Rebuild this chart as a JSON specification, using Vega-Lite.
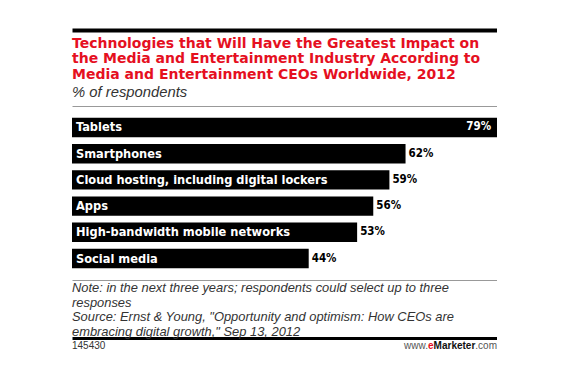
{
  "$schema": "https://vega.github.io/schema/vega-lite/v6.json",
  "padding": {"left": 72, "top": 24, "right": 0, "bottom": 0},
  "background": "white",
  "spacing": 0,
  "config": {"view": {"stroke": null}, "font": "Liberation Sans", "concat": {"spacing": 0}},
  "datasets": {
    "bars": [
      {"tech": "Tablets", "value": 79, "label": "79%"},
      {"tech": "Smartphones", "value": 62, "label": "62%"},
      {"tech": "Cloud hosting, including digital lockers", "value": 59, "label": "59%"},
      {"tech": "Apps", "value": 56, "label": "56%"},
      {"tech": "High-bandwidth mobile networks", "value": 53, "label": "53%"},
      {"tech": "Social media", "value": 44, "label": "44%"}
    ],
    "notes": [
      {"text": "Note: in the next three years; respondents could select up to three"},
      {"text": "responses"},
      {"text": "Source: Ernst & Young, \"Opportunity and optimism: How CEOs are"},
      {"text": "embracing digital growth,\" Sep 13, 2012"}
    ],
    "footer": [
      {"text": "145430", "part": "id"},
      {"text": "www.", "part": "www"},
      {"text": "e", "part": "e"},
      {"text": "Marketer", "part": "brand"},
      {"text": ".com", "part": "com"}
    ]
  },
  "vconcat": [
    {
      "width": 425,
      "height": 1,
      "data": {"values": [{"k": 1}]},
      "mark": {"type": "text", "text": ""},
      "encoding": {
        "x": {"datum": 0, "type": "quantitative", "scale": {"domain": [0, 1]},
              "axis": {"orient": "top", "domainColor": "#000", "domainWidth": 4, "ticks": false, "labels": false, "grid": false, "title": null}}
      }
    },
    {
      "width": 425,
      "height": 174,
      "title": {
        "text": ["Technologies that Will Have the Greatest Impact on", "the Media and Entertainment Industry According to", "Media and Entertainment CEOs Worldwide, 2012"],
        "subtitle": "% of respondents",
        "anchor": "start",
        "frame": "group",
        "font": "DejaVu Sans",
        "fontSize": 14,
        "fontWeight": "bold",
        "color": "#e5101f",
        "lineHeight": 15.8,
        "subtitleFont": "Liberation Sans",
        "subtitleFontSize": 14.8,
        "subtitleFontStyle": "italic",
        "subtitleColor": "#333333",
        "subtitlePadding": 3,
        "offset": 6
      },
      "data": {"name": "bars"},
      "encoding": {
        "y": {"field": "tech", "type": "nominal", "sort": null, "axis": null,
              "scale": {"paddingInner": 0.26, "paddingOuter": 0.45}}
      },
      "layer": [
        {
          "mark": {"type": "bar", "color": "#000000"},
          "encoding": {
            "x": {"field": "value", "type": "quantitative", "scale": {"domain": [0, 79], "nice": false, "zero": true},
                  "axis": {"orient": "top", "domainColor": "#999999", "domainWidth": 1.2, "ticks": false, "labels": false, "grid": false, "title": null}}
          }
        },
        {
          "mark": {"type": "text", "align": "left", "baseline": "middle", "dx": 4, "color": "#ffffff", "font": "DejaVu Sans Condensed, DejaVu Sans", "fontWeight": "bold", "fontSize": 12.7},
          "encoding": {
            "x": {"datum": 0, "type": "quantitative",
                  "axis": {"orient": "bottom", "domainColor": "#999999", "domainWidth": 1.2, "ticks": false, "labels": false, "grid": false, "title": null}},
            "text": {"field": "tech"}
          }
        },
        {
          "transform": [{"filter": "datum.value < 70"}],
          "mark": {"type": "text", "align": "left", "baseline": "middle", "dx": 3, "color": "#000000", "font": "DejaVu Sans Condensed, DejaVu Sans", "fontWeight": "bold", "fontSize": 11.5},
          "encoding": {
            "x": {"field": "value", "type": "quantitative", "axis": null},
            "text": {"field": "label"}
          }
        },
        {
          "transform": [{"filter": "datum.value >= 70"}],
          "mark": {"type": "text", "align": "right", "baseline": "middle", "dx": -6, "color": "#ffffff", "font": "DejaVu Sans Condensed, DejaVu Sans", "fontWeight": "bold", "fontSize": 11.5},
          "encoding": {
            "x": {"field": "value", "type": "quantitative", "axis": null},
            "text": {"field": "label"}
          }
        }
      ],
      "resolve": {"axis": {"x": "independent"}}
    },
    {
      "width": 425,
      "height": 58,
      "data": {"name": "notes"},
      "mark": {"type": "text", "align": "left", "baseline": "middle", "dy": 1, "fontStyle": "italic", "fontSize": 12.9, "color": "#333333"},
      "encoding": {
        "x": {"datum": 0, "type": "quantitative", "scale": {"domain": [0, 1]},
              "axis": {"orient": "bottom", "domainColor": "#000000", "domainWidth": 3, "ticks": false, "labels": false, "grid": false, "title": null}},
        "y": {"field": "text", "type": "nominal", "sort": null, "axis": null, "scale": {"paddingInner": 0, "paddingOuter": 0}},
        "text": {"field": "text"}
      }
    },
    {
      "width": 425,
      "height": 13,
      "data": {"name": "footer"},
      "encoding": {
        "x": {"datum": 0, "type": "quantitative", "scale": {"domain": [0, 1]}, "axis": null},
        "text": {"field": "text"}
      },
      "layer": [
        {
          "transform": [{"filter": "datum.part == 'id'"}],
          "mark": {"type": "text", "align": "left", "baseline": "middle", "fontSize": 10, "color": "#333333"}
        },
        {
          "transform": [{"filter": "datum.part == 'com'"}],
          "mark": {"type": "text", "align": "right", "baseline": "middle", "fontSize": 10, "color": "#555555"},
          "encoding": {"x": {"datum": 1, "type": "quantitative"}}
        },
        {
          "transform": [{"filter": "datum.part == 'brand'"}],
          "mark": {"type": "text", "align": "right", "baseline": "middle", "dx": -21.7, "fontSize": 10, "fontWeight": "bold", "color": "#111111"},
          "encoding": {"x": {"datum": 1, "type": "quantitative"}}
        },
        {
          "transform": [{"filter": "datum.part == 'e'"}],
          "mark": {"type": "text", "align": "right", "baseline": "middle", "dx": -63.4, "fontSize": 10, "fontWeight": "bold", "color": "#e5101f"},
          "encoding": {"x": {"datum": 1, "type": "quantitative"}}
        },
        {
          "transform": [{"filter": "datum.part == 'www'"}],
          "mark": {"type": "text", "align": "right", "baseline": "middle", "dx": -69, "fontSize": 10, "color": "#555555"},
          "encoding": {"x": {"datum": 1, "type": "quantitative"}}
        }
      ]
    }
  ]
}
